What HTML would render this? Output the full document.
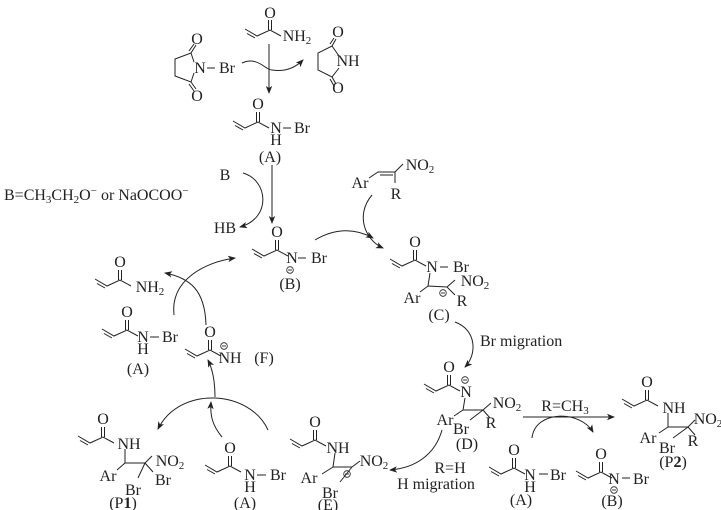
<!DOCTYPE html>
<html><head><meta charset="utf-8"><style>
html,body{margin:0;padding:0;background:#fff;}
svg{display:block;}
text{font-family:"Liberation Serif",serif;font-size:16px;fill:#222;}
.s{font-size:11px;}
</style></head><body>
<svg width="721" height="510" viewBox="0 0 721 510" xmlns="http://www.w3.org/2000/svg">
<defs>
<marker id="ah" markerWidth="8" markerHeight="8" refX="7" refY="4" orient="auto" markerUnits="userSpaceOnUse">
<path d="M0,0.8 L8,4 L0,7.2 L2,4 z" fill="#222"/></marker>
<g id="ac" fill="none" stroke="#222" stroke-width="1">
<path d="M-25,-1 L-13,6 L0,0 L11,6 M-23,3.5 L-15,8 M-1.5,0 V-10 M1.5,0 V-10"/>
</g>
<g id="m"><circle r="3.3" fill="none" stroke="#222" stroke-width="0.8"/><line x1="-2" x2="2" stroke="#222" stroke-width="0.9"/></g>
</defs>
<g fill="none" stroke="#222" stroke-width="1">
<path d="M194,62 L191,53 L175,59 L175,76 L191,82 L194,73"/>
<path d="M191,53 L196,45 M189,51 L194,44 M191,82 L196,89 M189,84 L194,91"/>
<line x1="207" y1="68" x2="215" y2="68"/>
<path d="M339,56 L332,46 L318,53 L318,70 L332,77 L339,68"/>
<path d="M332,46 L336,39 M330,44 L334,38 M332,77 L336,84 M330,79 L334,86"/>
<path d="M269,44 L269,93" marker-end="url(#ah)"/>
<path d="M242,63 C258,56 265,70 272,70 C285,72 295,68 303,60" marker-end="url(#ah)"/>
<line x1="283" y1="128" x2="291" y2="128"/>
<path d="M272,165 L272,223" marker-end="url(#ah)"/>
<path d="M243,173 C268,180 272,218 240,227" marker-end="url(#ah)"/>
<line x1="298" y1="258" x2="306" y2="258"/>
<path d="M315,240 C335,228 355,228 373,238" marker-end="url(#ah)"/>
<path d="M372,195 C355,215 365,240 383,248" marker-end="url(#ah)"/>
<path d="M369,178 L378,172 L395,172 L403,164 M395,172 L395,183 M380,175 L393,175"/>
<line x1="440" y1="267" x2="448" y2="267"/>
<path d="M430,273 L428,286 L447,287 L455,280 M447,287 L455,295 M428,286 L420,292"/>
<path d="M455,322 C477,330 477,355 465,367" marker-end="url(#ah)"/>
<path d="M465,398 L463,410 L483,410 L491,403 M483,410 L490,418 M483,410 L470,420 M463,410 L454,416"/>
<path d="M523,417 L614,417" marker-end="url(#ah)"/>
<path d="M532,438 C535,410 580,410 593,432" marker-end="url(#ah)"/>
<line x1="539" y1="474" x2="548" y2="474"/>
<line x1="622" y1="478" x2="630" y2="478"/>
<path d="M668,413 L668,427 L688,427 L695,420 M688,427 L695,435 M688,427 L673,438 M668,427 L659,433"/>
<path d="M442,430 C435,455 415,468 390,470" marker-end="url(#ah)"/>
<path d="M335,453 L333,467 L352,467 L360,461 M333,467 L322,474 M352,467 L340,482"/>
<line x1="257" y1="475" x2="266" y2="475"/>
<path d="M125,449 L125,463 L145,463 L152,456 M125,463 L117,470 M145,463 L138,478 M145,463 L153,472"/>
<path d="M268,430 C250,390 180,385 158,429" marker-end="url(#ah)"/>
<path d="M222,437 C212,425 210,415 211,402" marker-end="url(#ah)"/>
<path d="M215,397 C215,385 214,372 208,360" marker-end="url(#ah)"/>
<path d="M174,315 C170,280 205,262 235,258" marker-end="url(#ah)"/>
<path d="M206,325 C205,290 190,278 165,273" marker-end="url(#ah)"/>
<line x1="150" y1="337" x2="159" y2="337"/>
</g>
<use href="#ac" x="270" y="30"/>
<use href="#ac" x="258" y="122"/>
<use href="#ac" x="277" y="250"/>
<use href="#ac" x="415" y="260"/>
<use href="#ac" x="449" y="385"/>
<use href="#ac" x="120" y="280"/>
<use href="#ac" x="127" y="330"/>
<use href="#ac" x="210" y="350"/>
<use href="#ac" x="103" y="437"/>
<use href="#ac" x="230" y="466"/>
<use href="#ac" x="315" y="440"/>
<use href="#ac" x="514" y="468"/>
<use href="#ac" x="601" y="472"/>
<use href="#ac" x="647" y="400"/>
<use href="#m" x="290" y="270"/>
<use href="#m" x="443" y="293"/>
<use href="#m" x="465" y="380"/>
<use href="#m" x="224" y="346"/>
<use href="#m" x="347" y="474"/>
<use href="#m" x="614" y="490"/>
<g text-anchor="middle">
<text x="197" y="44">O</text><text x="197" y="101">O</text><text x="200" y="73">N</text><text x="227" y="73">Br</text>
<text x="338" y="37">O</text><text x="338" y="93">O</text><text x="348" y="66">NH</text>
<text x="270" y="18">O</text><text x="297" y="41">NH<tspan class="s" dy="3">2</tspan></text>
<text x="258" y="109">O</text><text x="276" y="133">N</text><text x="302" y="133">Br</text><text x="276" y="145">H</text><text x="270" y="162">(A)</text>
<text x="225" y="180">B</text><text x="225" y="233">HB</text>
<text x="277" y="237">O</text><text x="292" y="263">N</text><text x="319" y="263">Br</text><text x="290" y="289">(B)</text>
<text x="360" y="188">Ar</text><text x="420" y="170">NO<tspan class="s" dy="3">2</tspan></text><text x="396" y="199">R</text>
<text x="415" y="247">O</text><text x="432" y="272">N</text><text x="461" y="272">Br</text>
<text x="475" y="286">NO<tspan class="s" dy="3">2</tspan></text><text x="412" y="303">Ar</text><text x="462" y="306">R</text><text x="439" y="320">(C)</text>
<text x="449" y="372">O</text><text x="466" y="397">N</text><text x="507" y="408">NO<tspan class="s" dy="3">2</tspan></text>
<text x="445" y="425">Ar</text><text x="461" y="434">Br</text><text x="491" y="428">R</text><text x="467" y="449">(D)</text>
<text x="565" y="411">R=CH<tspan class="s" dy="3">3</tspan></text>
<text x="514" y="455">O</text><text x="530" y="480">N</text><text x="558" y="480">Br</text><text x="530" y="492">H</text><text x="521" y="505">(A)</text>
<text x="601" y="459">O</text><text x="614" y="484">N</text><text x="641" y="484">Br</text><text x="612" y="506">(B)</text>
<text x="647" y="387">O</text><text x="674" y="413">NH</text><text x="708" y="424">NO<tspan class="s" dy="3">2</tspan></text>
<text x="648" y="443">Ar</text><text x="667" y="453">Br</text><text x="693" y="446">R</text><text x="673" y="467">(P<tspan font-weight="bold">2</tspan>)</text>
<text x="450" y="473">R=H</text><text x="436" y="489">H migration</text>
<text x="315" y="427">O</text><text x="338" y="453">NH</text><text x="374" y="466">NO<tspan class="s" dy="3">2</tspan></text>
<text x="309" y="483">Ar</text><text x="330" y="498">Br</text><text x="328" y="510">(E)</text>
<text x="230" y="453">O</text><text x="250" y="480">N</text><text x="278" y="480">Br</text><text x="250" y="492">H</text><text x="245" y="508">(A)</text>
<text x="103" y="424">O</text><text x="129" y="449">NH</text><text x="170" y="466">NO<tspan class="s" dy="3">2</tspan></text>
<text x="108" y="481">Ar</text><text x="133" y="495">Br</text><text x="163" y="485">Br</text><text x="123" y="508">(P<tspan font-weight="bold">1</tspan>)</text>
<text x="210" y="337">O</text><text x="230" y="363">NH</text><text x="264" y="363">(F)</text>
<text x="120" y="267">O</text><text x="150" y="292">NH<tspan class="s" dy="3">2</tspan></text>
<text x="127" y="317">O</text><text x="143" y="342">N</text><text x="170" y="342">Br</text><text x="143" y="354">H</text><text x="138" y="374">(A)</text>
<text x="480" y="346" text-anchor="start">Br migration</text>
</g>
<text x="4" y="200">B=CH<tspan class="s" dy="3">3</tspan><tspan dy="-3">CH</tspan><tspan class="s" dy="3">2</tspan><tspan dy="-3">O</tspan><tspan class="s" dy="-6">−</tspan><tspan dy="6"> or NaOCOO</tspan><tspan class="s" dy="-6">−</tspan></text>
</svg>
</body></html>
